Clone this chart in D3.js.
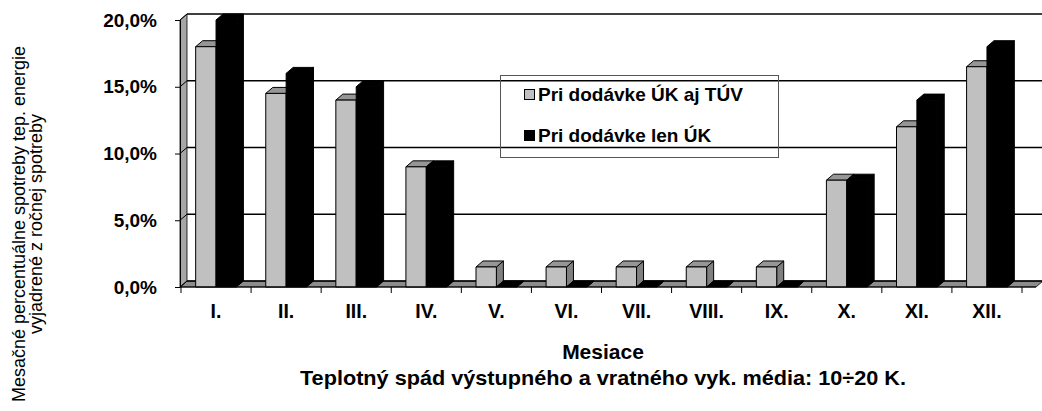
<!DOCTYPE html>
<html>
<head>
<meta charset="utf-8">
<script src="https://cdn.jsdelivr.net/npm/d3@7/dist/d3.min.js"></script>
<style>
  html, body { margin: 0; padding: 0; background: #fff; }
  svg { display: block; font-family: "Liberation Sans", Arial, sans-serif; }
</style>
</head>
<body>
<svg id="chart" width="1042" height="411"></svg>
<script>
const categories = ["I.", "II.", "III.", "IV.", "V.", "VI.", "VII.", "VIII.", "IX.", "X.", "XI.", "XII."];
const seriesNames = ["Pri dodávke ÚK aj TÚV", "Pri dodávke len ÚK"];
const valuesUKTUV = [18, 14.5, 14, 9, 1.5, 1.5, 1.5, 1.5, 1.5, 8, 12, 16.5];
const valuesUK = [20, 16, 15, 9, 0, 0, 0, 0, 0, 8, 14, 18];
const yTicks = [0, 5, 10, 15, 20];
const xTitle = "Mesiace";
const subTitle = "Teplotný spád výstupného a vratného vyk. média: 10÷20 K.";
const yTitleLines = ["Mesačné percentuálne spotreby tep. energie", "vyjadrené  z ročnej spotreby"];

const series = [
  { name: seriesNames[0], values: valuesUKTUV, front: "#c0c0c0", top: "#969696", side: "#808080" },
  { name: seriesNames[1], values: valuesUK, front: "#000000", top: "#000000", side: "#000000" }
];

const svg = d3.select("#chart");
const DX = 7, DY = 6;               // 3D depth offset
const x0 = 181, x1 = 1022;
const yBase = 287, yTop = 20;

const x = d3.scaleBand().domain(categories).range([x0, x1]).paddingInner(0).paddingOuter(0);
const xs = d3.scaleBand().domain(d3.range(series.length)).range([0, x.step()]).paddingInner(0).paddingOuter(0.72);
const y = d3.scaleLinear().domain([0, 20]).range([yBase, yTop]);

const wallLeft = x0 - 1, wallRight = 1036;

// floor
svg.append("polygon")
  .attr("points", [[wallLeft, y(0)], [wallRight, y(0)], [wallRight + DX, y(0) - DY], [wallLeft + DX, y(0) - DY]].join(" "))
  .attr("fill", "#8c8c8c").attr("stroke", "#000").attr("stroke-width", 0.8);

// left side wall
svg.append("polygon")
  .attr("points", [[wallLeft, y(0)], [wallLeft, y(20)], [wallLeft + DX, y(20) - DY], [wallLeft + DX, y(0) - DY]].join(" "))
  .attr("fill", "#a6a6a6").attr("stroke", "#000").attr("stroke-width", 0.8);

// gridlines on back wall + diagonal on side wall
const grid = svg.append("g");
yTicks.forEach(t => {
  grid.append("line")
    .attr("x1", wallLeft + DX).attr("x2", 1042)
    .attr("y1", y(t) - DY).attr("y2", y(t) - DY)
    .attr("stroke", "#000").attr("stroke-width", 1.3);
  grid.append("line")
    .attr("x1", wallLeft).attr("x2", wallLeft + DX)
    .attr("y1", y(t)).attr("y2", y(t) - DY)
    .attr("stroke", "#000").attr("stroke-width", 1);
});

// legend (transparent box)
const lg = svg.append("g");
lg.append("rect").attr("x", 500.5).attr("y", 75.5).attr("width", 278).attr("height", 82)
  .attr("fill", "none").attr("stroke", "#555").attr("stroke-width", 1);
series.forEach((s, i) => {
  const ly = i === 0 ? 101 : 142;
  lg.append("rect").attr("x", 524.5).attr("y", ly - 11.5).attr("width", 10).attr("height", 10)
    .attr("fill", s.front).attr("stroke", "#000").attr("stroke-width", 1);
  lg.append("text").attr("x", 538).attr("y", ly)
    .attr("font-size", 19).attr("font-weight", "bold").text(s.name);
});

// bars
const bars = svg.append("g");
categories.forEach((c, ci) => {
  series.forEach((s, si) => {
    const v = s.values[ci];
    const bx = x(c) + xs(si);
    const bw = xs.bandwidth();
    const by = y(v);
    const g = bars.append("g").attr("stroke", "#000").attr("stroke-width", 1).attr("stroke-linejoin", "round");
    g.append("polygon")
      .attr("points", [[bx + bw, by], [bx + bw + DX, by - DY], [bx + bw + DX, y(0) - DY], [bx + bw, y(0)]].join(" "))
      .attr("fill", s.side);
    g.append("polygon")
      .attr("points", [[bx, by], [bx + bw, by], [bx + bw + DX, by - DY], [bx + DX, by - DY]].join(" "))
      .attr("fill", s.top);
    if (v > 0) {
      g.append("rect").attr("x", bx).attr("y", by).attr("width", bw).attr("height", y(0) - by)
        .attr("fill", s.front);
    }
  });
});

// front axis line and boundary ticks
svg.append("line").attr("x1", wallLeft).attr("x2", wallRight).attr("y1", y(0)).attr("y2", y(0))
  .attr("stroke", "#000").attr("stroke-width", 1.2);
const bounds = categories.map(c => x(c)).concat([x(categories[categories.length - 1]) + x.step()]);
svg.append("g").selectAll("line").data(bounds).join("line")
  .attr("x1", d => d).attr("x2", d => d).attr("y1", y(0)).attr("y2", y(0) + 6)
  .attr("stroke", "#000").attr("stroke-width", 1);

// y axis
const yAxis = d3.axisLeft(y).tickValues(yTicks)
  .tickFormat(d => d.toFixed(1).replace(".", ",") + "%")
  .tickSize(5).tickPadding(18);
const ya = svg.append("g").attr("transform", `translate(${wallLeft},0)`).call(yAxis);
ya.select(".domain").attr("stroke", "#000");
ya.selectAll(".tick line").attr("stroke", "#000");
ya.selectAll(".tick text").attr("font-size", 19).attr("font-weight", "bold").attr("fill", "#000")
  .attr("font-family", "Liberation Sans, Arial, sans-serif");

// x axis labels
const xAxis = d3.axisBottom(x).tickSize(0).tickPadding(17);
const xa = svg.append("g").attr("transform", `translate(0,${y(0)})`).call(xAxis);
xa.select(".domain").remove();
xa.selectAll(".tick text").attr("font-size", 19.5).attr("font-weight", "bold").attr("fill", "#000")
  .attr("font-family", "Liberation Sans, Arial, sans-serif");

// titles
svg.append("text").attr("x", 603).attr("y", 359).attr("text-anchor", "middle")
  .attr("font-size", 21).attr("font-weight", "bold").text(xTitle);
svg.append("text").attr("x", 603).attr("y", 385).attr("text-anchor", "middle")
  .attr("font-size", 21).attr("font-weight", "bold")
  .attr("textLength", 606).attr("lengthAdjust", "spacingAndGlyphs").text(subTitle);

const yt = svg.append("g");
yTitleLines.forEach((t, i) => {
  yt.append("text").attr("transform", `translate(${i === 0 ? 25 : 42},224) rotate(-90)`)
    .attr("text-anchor", "middle").attr("font-size", 18).attr("fill", "#000").text(t);
});
</script>
</body>
</html>
